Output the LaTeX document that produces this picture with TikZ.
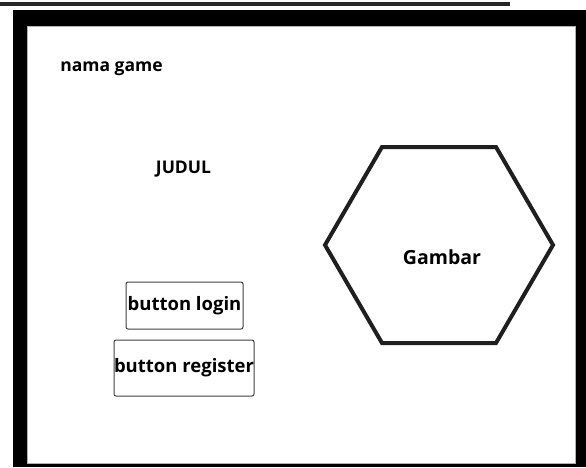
\documentclass[tikz,border=0pt]{standalone}
\usepackage{fontspec}
\setmainfont{Open Sans}
\usepackage{tikz}

\tikzset{
  label text/.style={font=\bfseries\fontsize{17.5}{20}\selectfont, inner sep=0pt},
  button/.style={draw=black!75, line width=1pt, rounded corners=2pt, inner sep=0pt,
    font=\bfseries\fontsize{18.5}{21}\selectfont}
}

\begin{document}
\begin{tikzpicture}[x=1pt,y=-1pt]
	% Canvas
	\useasboundingbox (0,0) rectangle (586,467);
	
	% Line above the screen
	\draw[black!85, line width=4pt] (0,3.5) -- (510,3.5);
	
	% Screen frame
	\fill[black] (13,10) rectangle (586,467);
	\filldraw[fill=white, draw=black!30, line width=0.6pt] (27,26) rectangle (575,463);
	
	% Define the vertices of the hexagon
	\coordinate (L) at (325,245);
	\coordinate (TL) at (382,147);
	\coordinate (TR) at (496,147);
	\coordinate (R) at (553,245);
	\coordinate (BR) at (496,343);
	\coordinate (BL) at (382,343);
	
	% Draw the hexagon
	\draw[black!88, line width=4pt, line join=miter] (L) -- (TL) -- (TR) -- (R) -- (BR) -- (BL) -- cycle;
	
	% Texts
	\node[label text] (nama) at (111.5,69) {nama game};
	\node[label text] (judul) at (183.5,169) {JUDUL};
	\node[label text, font=\bfseries\fontsize{19.5}{22}\selectfont] (gambar) at (442,257) {Gambar};
	
	% Buttons
	\node[button, minimum width=117pt, minimum height=47pt] (login) at (184.5,305.5) {button login};
	\node[button, minimum width=140pt, minimum height=56pt] (register) at (184,368) {\raisebox{-5pt}{button register}};
\end{tikzpicture}
\end{document}
